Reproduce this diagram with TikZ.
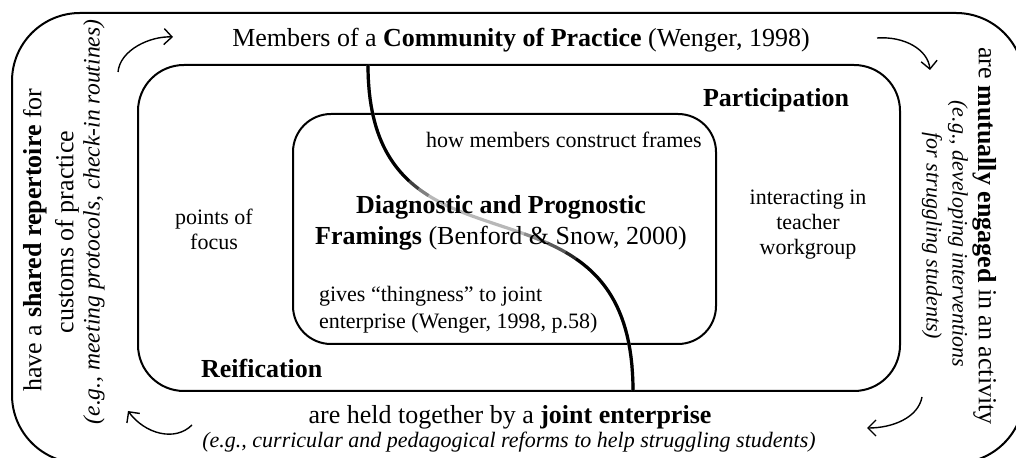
\documentclass[tikz,border=0pt]{standalone}
\usepackage{fontspec}
\setmainfont{Liberation Serif}
\usetikzlibrary{arrows.meta}

\tikzset{
  roundbox/.style={draw, line width=1pt},
  bigtext/.style={font=\fontsize{13}{15.5}\selectfont, align=center},
  smalltext/.style={font=\fontsize{11}{12.5}\selectfont, align=center},
  egtext/.style={font=\fontsize{11}{12.5}\selectfont\itshape},
  cyclearrow/.style={-{Straight Barb[length=4pt,width=8pt]}, line width=0.7pt},
  divide/.style={line width=1.6pt},
  declare function={
    bx(\t)=368+265*(3*\t^2-2*\t^3);
    by(\t)=65*(1-\t)^3+900*(1-\t)^2*\t+450*(1-\t)*\t^2+391*\t^3;
  }
}

\begin{document}
\begin{tikzpicture}[x=0.5pt, y=-0.5pt]

      \useasboundingbox (0,0) rectangle (1016,458);

      \draw[roundbox, rounded corners=34pt] (12,13) rectangle (1024,463);
      \draw[roundbox, rounded corners=23pt] (138,65) rectangle (900,391);
      \draw[roundbox, rounded corners=19pt] (293,114) rectangle (716,344);

      % participation / reification divide
      \draw[divide, black!28] plot[domain=0:1, samples=80, variable=\t] ({bx(\t)},{by(\t)});
      \foreach \ta/\tb/\ink in {0/0.25/100, 0.25/0.28/75, 0.28/0.31/50,
                                0.56/0.62/45, 0.62/0.67/65, 0.67/0.70/85, 0.70/1/100}
        \draw[divide, black!\ink] plot[domain=\ta:\tb, samples=25, variable=\t] ({bx(\t)},{by(\t)});

      \node[bigtext] (members) at (521,40) {Members of a \textbf{Community of Practice} (Wenger, 1998)};
      \node[bigtext] (participation) at (776,100) {\textbf{Participation}};
      \node[smalltext] (construct) at (564,140) {how members construct frames};
      \node[smalltext] (focus) at (214,229) {points of\\focus};
      \node[bigtext] (framings) at (501,223) {\textbf{Diagnostic and Prognostic}\\\textbf{Framings} (Benford \& Snow, 2000)};
      \node[smalltext] (interacting) at (808,225) {interacting in\\teacher\\workgroup};
      \node[smalltext, align=left, anchor=west, font=\fontsize{11}{13.5}\selectfont] (thingness) at (312,310) {gives “thingness” to joint\\enterprise (Wenger, 1998, p.58)};
      \node[bigtext, anchor=west] (reification) at (194,368) {\textbf{Reification}};

      \node[bigtext] (held) at (510,417) {are held together by a \textbf{joint enterprise}};
      \node[egtext] (reforms) at (509,442) {(e.g., curricular and pedagogical reforms to help struggling students)};

      \node[bigtext, rotate=90] (repertoire) at (35,240) {have a \textbf{shared repertoire} for};
      \node[bigtext, rotate=90] (customs) at (67,232) {customs of practice};
      \node[egtext, rotate=90, font=\fontsize{11.8}{13}\selectfont\itshape] (protocols) at (94,222) {(e.g., meeting protocols, check-in routines)};

      \node[bigtext, rotate=-90] (engaged) at (985,236) {are \textbf{mutually engaged} in an activity};
      \node[egtext, rotate=-90] (interventions) at (958,234) {(e.g., developing interventions};
      \node[egtext, rotate=-90] (struggling) at (932,236) {for struggling students)};

      \coordinate (tl start) at (118,72);
      \coordinate (tl end) at (173,37);
      \coordinate (tr start) at (877,38);
      \coordinate (tr end) at (930,70);
      \coordinate (br start) at (922,397);
      \coordinate (br end) at (867,428);
      \coordinate (bl start) at (192,425);
      \coordinate (bl end) at (128,411);

      \draw[cyclearrow] (tl start) .. controls (120,50) and (150,36) .. (tl end);
      \draw[cyclearrow] (tr start) .. controls (905,36) and (928,50) .. (tr end);
      \draw[cyclearrow] (br start) .. controls (918,418) and (892,428) .. (br end);
      \draw[cyclearrow] (bl start) .. controls (175,442) and (145,434) .. (bl end);

\end{tikzpicture}
\end{document}
